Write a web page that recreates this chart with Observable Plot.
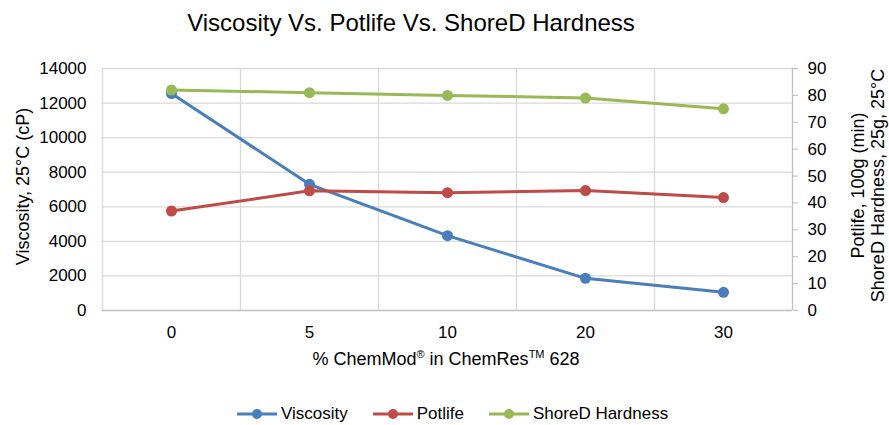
<!DOCTYPE html>
<html><head><meta charset="utf-8">
<script src="https://cdn.jsdelivr.net/npm/d3@7"></script>
<script src="https://cdn.jsdelivr.net/npm/@observablehq/plot@0.6"></script>
<style>
body{margin:0;background:#fff;font-family:"Liberation Sans",Arial,sans-serif;color:#000;}
#wrap{position:relative;width:889px;height:425px;overflow:hidden;}
#title{position:absolute;left:0;top:11px;width:822px;text-align:center;font-size:24px;line-height:24px;}
#chart{position:absolute;left:0;top:50px;}
#legend{position:absolute;left:237px;top:405px;display:flex;align-items:center;font-size:17px;line-height:17px;white-space:nowrap;}
.item{display:flex;align-items:center;margin-right:25px;}
.item svg{margin-right:4px;}
</style></head><body>
<div id="wrap">
<div id="title">Viscosity Vs. Potlife Vs. ShoreD Hardness</div>
<div id="chart"></div>
<div id="legend"></div>
</div>
<script>
const categories = ["0", "5", "10", "20", "30"];
const viscosity = [12550, 7300, 4330, 1860, 1050];
const potlife = [37, 44.5, 43.8, 44.6, 42];
const shoreD = [82, 81, 80, 79, 75];
const leftTicks = [0, 2000, 4000, 6000, 8000, 10000, 12000, 14000];
const rightTicks = [0, 10, 20, 30, 40, 50, 60, 70, 80, 90];
const seriesNames = ["Viscosity", "Potlife", "ShoreD Hardness"];
const seriesColors = ["#4a7ebb", "#be4b48", "#98b954"];

const leftMax = leftTicks[leftTicks.length - 1];
const rightMax = rightTicks[rightTicks.length - 1];
const k = leftMax / rightMax;

const rows = [];
categories.forEach((c, i) => {
  rows.push({i, s: seriesNames[0], v: viscosity[i]});
  rows.push({i, s: seriesNames[1], v: potlife[i] * k});
  rows.push({i, s: seriesNames[2], v: shoreD[i] * k});
});
const idx = d3.range(categories.length);
const bounds = idx.slice(1).map(i => i - 0.5);
const grey = "#d9d9d9";
const axisGrey = "#bfbfbf";

const plot = Plot.plot({
  width: 889,
  height: 335,
  marginTop: 18,
  marginBottom: 75,
  marginLeft: 102,
  marginRight: 97,
  style: {fontFamily: "'Liberation Sans', Arial, sans-serif", fontSize: "17px", color: "#000", background: "#fff", overflow: "visible"},
  x: {type: "linear", domain: [-0.5, categories.length - 0.5]},
  y: {domain: [0, leftMax]},
  color: {domain: seriesNames, range: seriesColors},
  marks: [
    Plot.ruleY(leftTicks.slice(1), {stroke: grey, strokeWidth: 1.3, strokeOpacity: 1}),
    Plot.ruleX(bounds, {stroke: grey, strokeWidth: 1.3, strokeOpacity: 1}),
    Plot.ruleX([-0.5], {stroke: grey, strokeWidth: 1.3}),
    Plot.ruleX([categories.length - 0.5], {stroke: axisGrey, strokeWidth: 1.3}),
    Plot.ruleY([0], {stroke: axisGrey, strokeWidth: 1.3}),
    Plot.axisX(idx, {tickSize: 0, tickPadding: 15, tickFormat: i => categories[i], label: null, fontSize: 17}),
    Plot.axisY(leftTicks, {anchor: "left", tickSize: 0, tickPadding: 16, label: null, fontSize: 17, tickFormat: d => String(d)}),
    Plot.axisY(rightTicks.map(v => v * k), {anchor: "right", tickSize: 5, tickPadding: 10, stroke: axisGrey, label: null, fontSize: 17, tickFormat: d => String(Math.round(d / k))}),
    Plot.line(rows, {x: "i", y: "v", z: "s", stroke: "s", strokeWidth: 3}),
    Plot.dot(rows, {x: "i", y: "v", fill: "s", r: 5.5, stroke: null}),
    Plot.text(["Viscosity, 25°C (cP)"], {frameAnchor: "left", textAnchor: "middle", dx: -79, dy: -3, rotate: -90, fontSize: 18, text: d => d}),
    Plot.text(["Potlife, 100g (min)"], {frameAnchor: "right", textAnchor: "middle", dx: 66, dy: -4, rotate: -90, fontSize: 18, text: d => d}),
    Plot.text(["ShoreD Hardness, 25g, 25°C"], {frameAnchor: "right", textAnchor: "middle", dx: 86, dy: -4, rotate: -90, fontSize: 18, text: d => d})
  ]
});
document.getElementById("chart").appendChild(plot);

// x-axis title with superscripts
const svg = d3.select(plot);
const t = svg.append("text")
  .attr("x", 446).attr("y", 315)
  .attr("text-anchor", "middle")
  .attr("font-size", 18)
  .attr("font-family", "'Liberation Sans', Arial, sans-serif")
  .attr("fill", "#000");
t.append("tspan").text("% ChemMod");
t.append("tspan").attr("font-size", 11).attr("dy", -7).text("®");
t.append("tspan").attr("dy", 7).text(" in ChemRes");
t.append("tspan").attr("font-size", 11).attr("dy", -7).text("TM");
t.append("tspan").attr("dy", 7).text(" 628");

// legend
const legend = d3.select("#legend");
seriesNames.forEach((name, j) => {
  const it = legend.append("div").attr("class", "item");
  const s = it.append("svg").attr("width", 40).attr("height", 12);
  s.append("line").attr("x1", 0).attr("x2", 40).attr("y1", 6).attr("y2", 6)
    .attr("stroke", seriesColors[j]).attr("stroke-width", 3);
  s.append("circle").attr("cx", 20).attr("cy", 6).attr("r", 5).attr("fill", seriesColors[j]);
  it.append("span").text(name);
});
</script>
</body></html>
